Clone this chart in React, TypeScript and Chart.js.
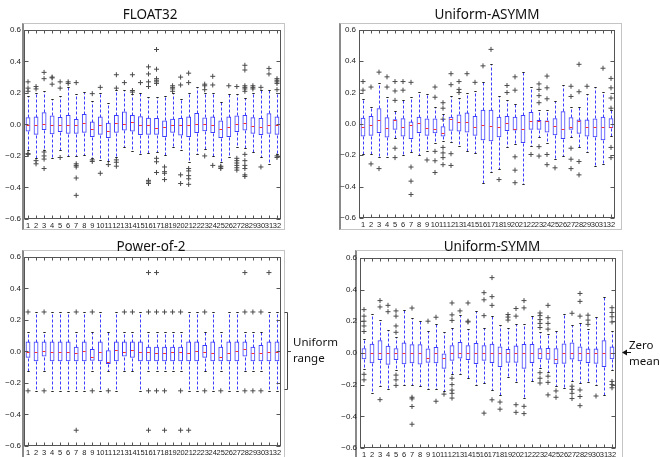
import React, { useEffect, useRef } from "react";
import { Chart, registerables } from "chart.js";
Chart.register(...registerables);

// ---------- data ----------
const CATEGORIES = ["1","2","3","4","5","6","7","8","9","10","11","12","13","14","15","16","17","18","19","20","21","22","23","24","25","26","27","28","29","30","31","32"];
const Y_MIN = -0.6;
const Y_MAX = 0.6;
const Y_STEP = 0.2;

// each box: [lower whisker, q1, median, q3, upper whisker]
const FLOAT32_BOXES = [
  [-0.16, -0.045, -0.006, 0.045, 0.18], [-0.21, -0.065, -0.006, 0.05, 0.2], [-0.16, -0.035, 0.005, 0.077, 0.21], [-0.21, -0.063, -0.004, 0.057, 0.16],
  [-0.16, -0.048, -0.002, 0.047, 0.18], [-0.2, -0.06, -0.005, 0.06, 0.24], [-0.2, -0.06, -0.006, 0.035, 0.195], [-0.195, -0.053, 0.006, 0.066, 0.205],
  [-0.215, -0.08, -0.032, 0.018, 0.15], [-0.225, -0.065, -0.004, 0.05, 0.2], [-0.23, -0.086, -0.042, 0.01, 0.135], [-0.205, -0.053, 0.006, 0.06, 0.22],
  [-0.143, -0.038, 0, 0.082, 0.22], [-0.17, -0.045, 0.014, 0.06, 0.19], [-0.185, -0.068, -0.006, 0.052, 0.2], [-0.18, -0.065, -0.006, 0.042, 0.175],
  [-0.175, -0.065, -0.02, 0.04, 0.175], [-0.195, -0.08, -0.015, 0.025, 0.18], [-0.143, -0.053, -0.006, 0.036, 0.2], [-0.165, -0.07, -0.004, 0.04, 0.16],
  [-0.24, -0.08, -0.006, 0.05, 0.2], [-0.19, -0.055, 0.004, 0.073, 0.24], [-0.155, -0.044, 0, 0.044, 0.2], [-0.2, -0.055, -0.006, 0.05, 0.2],
  [-0.24, -0.086, -0.027, 0.025, 0.145], [-0.205, -0.08, -0.017, 0.05, 0.19], [-0.145, -0.048, 0, 0.057, 0.195], [-0.15, -0.038, 0.012, 0.06, 0.17],
  [-0.178, -0.06, -0.01, 0.046, 0.2], [-0.205, -0.068, -0.015, 0.04, 0.22], [-0.25, -0.06, -0.004, 0.07, 0.22], [-0.19, -0.065, -0.004, 0.05, 0.2],
];
const FLOAT32_OUTLIERS = [
  [0.27, 0.23, 0.21, -0.185, -0.19], [0.24, 0.225, -0.23, -0.25], [0.33, 0.29, -0.175, -0.2, -0.22, -0.28], [0.3, 0.295, 0.255],
  [0.27, 0.23, -0.21], [0.27, 0.26], [0.265, -0.25, -0.26, -0.27, -0.34, -0.45], [],
  [0.195, -0.225, -0.235], [0.235, -0.31], [-0.255], [0.315, 0.23, -0.225, -0.24, -0.265],
  [0.265], [0.315, 0.215, 0.205], [0.265], [0.365, 0.32, 0.27, 0.24, -0.355, -0.365, -0.375],
  [0.475, 0.35, 0.29, 0.28, 0.27, 0.26, -0.215, -0.237, -0.305], [-0.27, -0.3, -0.31, -0.35], [0.245, 0.235, 0.225, 0.21], [0.3, 0.25, -0.32, -0.375],
  [0.325, 0.265, -0.28, -0.295, -0.325, -0.345, -0.38], [], [0.255, 0.245, 0.22, -0.2], [0.305, 0.25, -0.26],
  [-0.265, -0.27, -0.28], [0.245], [0.24, -0.215, -0.23, -0.245, -0.26, -0.275, -0.29], [0.375, 0.345, 0.245, 0.235, 0.225, 0.21, -0.19, -0.23, -0.26, -0.28, -0.32, -0.33],
  [0.245, 0.235, 0.225], [0.235, -0.27], [0.355, 0.32], [0.29, 0.28, 0.27, 0.26, 0.22, -0.2, -0.21],
];

const ASYMM_BOXES = [
  [-0.195, -0.08, -0.017, 0.04, 0.16], [-0.195, -0.075, -0.01, 0.05, 0.11], [-0.21, -0.058, 0.025, 0.1, 0.26], [-0.21, -0.086, -0.023, 0.042, 0.17],
  [-0.09, -0.038, 0.025, 0.03, 0.085], [-0.2, -0.08, -0.017, 0.036, 0.15], [-0.18, -0.097, -0.006, 0.015, 0.17], [-0.2, -0.058, 0.004, 0.045, 0.205],
  [-0.17, -0.075, -0.023, 0.035, 0.19], [-0.12, -0.06, -0.03, 0.035, 0.11], [-0.11, -0.08, -0.06, -0.015, 0.06], [-0.115, -0.044, 0.03, 0.046, 0.175],
  [-0.143, -0.048, 0.012, 0.06, 0.165], [-0.175, -0.055, 0.014, 0.072, 0.2], [-0.185, -0.075, -0.017, 0.05, 0.21], [-0.38, -0.105, -0.006, 0.09, 0.265],
  [-0.305, -0.11, -0.013, 0.09, 0.38], [-0.285, -0.085, -0.022, 0.045, 0.18], [-0.145, -0.045, 0.004, 0.05, 0.15], [-0.125, -0.042, -0.034, 0.046, 0.13],
  [-0.385, -0.122, -0.03, 0.057, 0.33], [-0.14, -0.038, 0.019, 0.076, 0.235], [-0.085, -0.038, 0.02, 0.025, 0.09], [-0.12, -0.055, 0.018, 0.022, 0.09],
  [-0.225, -0.073, -0.013, 0.036, 0.143], [-0.205, -0.097, -0.033, 0.08, 0.25], [-0.085, -0.038, -0.017, 0.042, 0.11], [-0.15, -0.063, 0.02, 0.028, 0.11],
  [-0.18, -0.08, -0.017, 0.028, 0.19], [-0.27, -0.085, -0.018, 0.035, 0.235], [-0.255, -0.105, -0.022, 0.046, 0.205], [-0.08, -0.028, -0.02, 0.036, 0.09],
];
const ASYMM_OUTLIERS = [
  [0.27, 0.215], [0.235, -0.255], [0.33, -0.285], [0.3, 0.235],
  [0.27, 0.21, 0.15, -0.155, -0.215], [0.27, 0.215], [0.265, -0.275, -0.365, -0.45], [],
  [-0.23], [0.235, 0.17, -0.175, -0.235, -0.31], [0.135, 0.1, 0.03, -0.15, -0.185, -0.215, -0.26], [0.32, 0.25, -0.19, -0.265],
  [0.27, 0.22, 0.2], [0.32], [0.265], [0.37],
  [0.475], [-0.355], [0.245, 0.2], [0.3, 0.215, -0.21, -0.295, -0.375],
  [], [-0.195], [0.255, 0.22, 0.18, 0.135, -0.145, -0.205], [0.305, 0.23, 0.16, -0.195, -0.26],
  [-0.28], [], [0.24, 0.175, -0.155, -0.225, -0.285], [0.38, 0.205, -0.24, -0.325],
  [0.24], [], [0.355], [0.29, 0.23, 0.165, 0.1, -0.15, -0.215],
];

const POW2_BOXES = [
  [-0.125, -0.04, -0.006, 0.0625, 0.125], [-0.25, -0.0625, -0.006, 0.0625, 0.25], [-0.125, -0.033, 0.004, 0.0625, 0.125], [-0.25, -0.0625, -0.006, 0.0625, 0.25],
  [-0.25, -0.0625, -0.004, 0.0625, 0.25], [-0.25, -0.0625, -0.006, 0.0625, 0.25], [-0.25, -0.0625, -0.008, 0.03, 0.125], [-0.25, -0.0625, 0.005, 0.0625, 0.25],
  [-0.125, -0.06, -0.033, 0.015, 0.125], [-0.25, -0.0625, -0.006, 0.0625, 0.25], [-0.125, -0.08, -0.065, 0.008, 0.125], [-0.25, -0.0625, 0.008, 0.0625, 0.25],
  [-0.125, -0.033, -0.002, 0.0625, 0.125], [-0.125, -0.04, 0.01, 0.0625, 0.125], [-0.25, -0.0625, -0.006, 0.0625, 0.25], [-0.125, -0.0625, -0.006, 0.03, 0.125],
  [-0.125, -0.0625, -0.013, 0.03, 0.125], [-0.125, -0.0625, -0.013, 0.03, 0.125], [-0.125, -0.0625, -0.006, 0.03, 0.125], [-0.125, -0.0625, -0.004, 0.03, 0.125],
  [-0.25, -0.0625, -0.008, 0.0625, 0.25], [-0.25, -0.0625, 0.003, 0.0625, 0.25], [-0.125, -0.04, -0.002, 0.04, 0.125], [-0.25, -0.0625, -0.008, 0.0625, 0.25],
  [-0.125, -0.0625, -0.033, 0.03, 0.125], [-0.25, -0.0625, -0.013, 0.0625, 0.25], [-0.25, -0.0625, 0.003, 0.0625, 0.25], [-0.125, -0.033, 0.015, 0.0625, 0.125],
  [-0.125, -0.0625, -0.013, 0.03, 0.125], [-0.125, -0.0625, -0.013, 0.04, 0.125], [-0.25, -0.0625, -0.006, 0.0625, 0.25], [-0.25, -0.0625, -0.006, 0.0625, 0.25],
];
const POW2_OUTLIERS = [
  [0.25, -0.25], [], [0.25, -0.25], [],
  [], [], [0.25, -0.5], [],
  [0.25, -0.25], [], [-0.25], [],
  [0.25], [0.25], [], [0.25, 0.5, -0.25, -0.5],
  [0.25, 0.5, -0.25], [0.25, -0.25, -0.5], [0.25], [0.25, -0.25, -0.5],
  [-0.5], [], [0.25, -0.25], [],
  [-0.25], [], [], [0.25, 0.5, -0.25],
  [0.25, -0.25], [0.25, -0.25], [0.5], [],
];

const SYMM_BOXES = [
  [-0.1, -0.04, 0, 0.03, 0.09], [-0.253, -0.066, 0, 0.058, 0.245], [-0.21, -0.045, 0, 0.08, 0.205], [-0.225, -0.075, 0, 0.045, 0.145],
  [-0.11, -0.045, 0, 0.03, 0.1], [-0.205, -0.072, 0, 0.065, 0.27], [-0.205, -0.066, 0, 0.055, 0.22], [-0.207, -0.073, 0, 0.055, 0.2],
  [-0.23, -0.062, -0.03, 0.028, 0.14], [-0.23, -0.066, 0, 0.038, 0.18], [-0.24, -0.1, -0.035, -0.003, 0.13], [-0.13, -0.05, 0, 0.048, 0.155],
  [-0.135, -0.035, 0, 0.068, 0.24], [-0.16, -0.045, 0, 0.048, 0.15], [-0.2, -0.07, 0, 0.062, 0.265], [-0.19, -0.05, 0, 0.048, 0.16],
  [-0.235, -0.064, 0, 0.057, 0.235], [-0.265, -0.089, 0, 0.041, 0.174], [-0.155, -0.062, 0, 0.025, 0.155], [-0.186, -0.062, 0, 0.046, 0.18],
  [-0.286, -0.1, 0, 0.056, 0.184], [-0.18, -0.064, 0, 0.056, 0.232], [-0.095, -0.04, 0, 0.03, 0.13], [-0.12, -0.043, 0, 0.031, 0.118],
  [-0.207, -0.072, -0.037, 0.03, 0.139], [-0.22, -0.068, 0, 0.06, 0.246], [-0.178, -0.041, 0, 0.066, 0.174], [-0.188, -0.052, 0, 0.041, 0.186],
  [-0.182, -0.064, 0, 0.027, 0.15], [-0.2, -0.068, 0, 0.027, 0.225], [-0.265, -0.089, 0, 0.08, 0.35], [-0.11, -0.04, 0, 0.04, 0.14],
];
const SYMM_OUTLIERS = [
  [0.273, 0.232, 0.2, 0.17, 0.135, -0.135, -0.17], [], [0.33, 0.29, -0.295], [0.3, 0.26],
  [0.265, 0.232, 0.17, 0.13, -0.14, -0.17, -0.205], [], [0.283, -0.28, -0.29, -0.338, -0.45], [],
  [0.2], [0.225, -0.305], [-0.26], [0.315, 0.24, 0.205, -0.16, -0.2, -0.235, -0.255, -0.285],
  [0.265], [0.315, 0.2, 0.195], [], [0.38, 0.335, 0.235, -0.38],
  [0.475, 0.355, 0.3, -0.296], [-0.31, -0.355], [0.242, 0.226, 0.207], [0.28, 0.232, -0.327, -0.375],
  [0.33, 0.284, -0.337, -0.383], [], [0.252, 0.235, 0.21, 0.186, 0.16, -0.125, -0.16, -0.19], [0.3, 0.222, 0.186, 0.15, -0.147, -0.186, -0.265],
  [-0.24, -0.28], [], [0.25, -0.21, -0.23, -0.255, -0.288], [0.375, 0.325, 0.232, -0.234, -0.275, -0.333],
  [0.238, 0.207, 0.18], [-0.272], [], [0.285, 0.255, 0.228, 0.195, -0.18, -0.2, -0.22],
];

// ---------- styles ----------
const BLUE = "#3d3dff";
const RED = "#ff2b2b";
const CAP = "#222222";
const FLIER = "#4a4a4a";
const SPINE = "#555555";
const X_TICK_FONT = { family: "'Liberation Sans', Arial, sans-serif", size: 7.5 };
const Y_TICK_FONT = { family: "'Liberation Sans', Arial, sans-serif", size: 8 };
const Y_AXIS_W = 22;
const X_AXIS_H = 14;
const PAD_TOP = 5;
const PAD_RIGHT = 3;

function fmt(v: number) {
  const r = Math.round(v * 10) / 10;
  if (Math.abs(r) < 1e-9) return "0.0";
  return r < 0 ? "\u2212" + Math.abs(r).toFixed(1) : r.toFixed(1);
}

type PanelProps = { boxes: number[][]; outliers: number[][]; left: number; top: number; width: number; height: number };

function BoxPanel({ boxes, outliers, left, top, width, height }: PanelProps) {
  const ref = useRef<HTMLCanvasElement>(null);
  const cw = Y_AXIS_W + width + PAD_RIGHT;
  const ch = PAD_TOP + height + X_AXIS_H;
  useEffect(() => {
    const canvas = ref.current!;
    const boxParts = {
      id: "boxParts",
      afterDatasetsDraw(chart: any) {
        const ctx = chart.ctx;
        const y = chart.scales.y;
        const meta = chart.getDatasetMeta(0);
        ctx.save();
        ctx.lineWidth = 1;
        boxes.forEach((b, i) => {
          const el = meta.data[i];
          const x = Math.round(el.x) + 0.5;
          const hw = el.width / 2;
          const py = (v: number) => Math.round(y.getPixelForValue(v)) + 0.5;
          // whiskers
          ctx.setLineDash([3, 2]);
          ctx.strokeStyle = BLUE;
          ctx.beginPath();
          ctx.moveTo(x, py(b[3]));
          ctx.lineTo(x, py(b[4]));
          ctx.moveTo(x, py(b[1]));
          ctx.lineTo(x, py(b[0]));
          ctx.stroke();
          ctx.setLineDash([]);
          // caps
          ctx.strokeStyle = CAP;
          ctx.beginPath();
          ctx.moveTo(x - hw / 2, py(b[4]));
          ctx.lineTo(x + hw / 2, py(b[4]));
          ctx.moveTo(x - hw / 2, py(b[0]));
          ctx.lineTo(x + hw / 2, py(b[0]));
          ctx.stroke();
          // median
          ctx.strokeStyle = RED;
          ctx.beginPath();
          ctx.moveTo(el.x - hw + 1, py(b[2]));
          ctx.lineTo(el.x + hw - 1, py(b[2]));
          ctx.stroke();
        });
        ctx.restore();
      },
      afterDraw(chart: any) {
        const ctx = chart.ctx;
        const a = chart.chartArea;
        const xs = chart.scales.x;
        const ys = chart.scales.y;
        ctx.save();
        ctx.strokeStyle = SPINE;
        ctx.lineWidth = 1;
        const l = Math.round(a.left) + 0.5, r = Math.round(a.right) - 0.5;
        const t = Math.round(a.top) + 0.5, bt = Math.round(a.bottom) - 0.5;
        ctx.strokeRect(l, t, r - l, bt - t);
        ctx.beginPath();
        xs.ticks.forEach((_: any, i: number) => {
          const x = Math.round(xs.getPixelForTick(i)) + 0.5;
          ctx.moveTo(x, bt); ctx.lineTo(x, bt - 3);
          ctx.moveTo(x, t); ctx.lineTo(x, t + 3);
        });
        ys.ticks.forEach((_: any, i: number) => {
          const yy = Math.round(ys.getPixelForTick(i)) + 0.5;
          ctx.moveTo(l, yy); ctx.lineTo(l + 4, yy);
          ctx.moveTo(r, yy); ctx.lineTo(r - 4, yy);
        });
        ctx.stroke();
        ctx.restore();
      },
    };
    const flierPoints: { x: string; y: number }[] = [];
    outliers.forEach((list, i) => list.forEach((v) => flierPoints.push({ x: CATEGORIES[i], y: v })));
    const chart = new Chart(canvas, {
      type: "bar",
      data: {
        labels: CATEGORIES,
        datasets: [
          {
            type: "bar",
            data: boxes.map((b) => [b[1], b[3]]),
            backgroundColor: "rgba(255,255,255,0)",
            borderColor: BLUE,
            borderWidth: 1,
            borderSkipped: false,
            barPercentage: 0.6,
            categoryPercentage: 1,
          } as any,
          {
            type: "scatter",
            data: flierPoints,
            pointStyle: "cross",
            pointRadius: 2.5,
            borderColor: FLIER,
            borderWidth: 1,
            backgroundColor: FLIER,
          } as any,
        ],
      },
      options: {
        animation: false,
        responsive: false,
        events: [],
        layout: { padding: { top: PAD_TOP, right: PAD_RIGHT, left: 0, bottom: 0 } },
        plugins: { legend: { display: false }, tooltip: { enabled: false }, title: { display: false } },
        scales: {
          x: {
            type: "category",
            offset: true,
            grid: { display: false, drawTicks: false },
            border: { display: false },
            ticks: { font: X_TICK_FONT, color: "#222", maxRotation: 0, minRotation: 0, autoSkip: false, padding: 2 },
            afterFit: (s: any) => { s.height = X_AXIS_H; },
          },
          y: {
            type: "linear",
            min: Y_MIN,
            max: Y_MAX,
            grid: { display: false, drawTicks: false },
            border: { display: false },
            ticks: { stepSize: Y_STEP, font: Y_TICK_FONT, color: "#222", padding: 3, callback: (v: any) => fmt(Number(v)) },
            afterFit: (s: any) => { s.width = Y_AXIS_W; },
          },
        },
      } as any,
      plugins: [boxParts],
    });
    return () => chart.destroy();
  }, []);
  return (
    <canvas
      ref={ref}
      width={cw}
      height={ch}
      style={{ position: "absolute", left: left - Y_AXIS_W, top: top - PAD_TOP, width: cw, height: ch }}
    />
  );
}

const TITLE_FONT = "'Noto Sans', 'Open Sans', sans-serif";

function Title({ text, cx, top }: { text: string; cx: number; top: number }) {
  return (
    <div style={{ position: "absolute", left: cx - 100, width: 200, top, textAlign: "center", font: `13.5px/13px ${TITLE_FONT}`, color: "#111", whiteSpace: "nowrap" }}>
      {text}
    </div>
  );
}

function Frame({ l, t, r, b }: { l: number; t: number; r: number; b: number }) {
  return (
    <div style={{ position: "absolute", left: l, top: t, width: r - l, height: b - t, borderTop: "1px solid #c4c4c4", borderRight: "1px solid #c4c4c4", borderBottom: "1px solid #c4c4c4", borderLeft: "2px solid #8a8a8a", boxSizing: "border-box" }} />
  );
}

function Note({ text, left, top }: { text: string; left: number; top: number }) {
  return (
    <div style={{ position: "absolute", left, top, font: `11.5px/12px ${TITLE_FONT}`, color: "#111", whiteSpace: "nowrap" }}>{text}</div>
  );
}

export default function App() {
  return (
    <div style={{ position: "absolute", left: 0, top: 0, width: 660, height: 457, background: "#fff", overflow: "hidden" }}>
      <Frame l={22} t={23} r={285} b={230} />
      <Frame l={339} t={23} r={622} b={230} />
      <Frame l={22} t={250} r={285} b={460} />
      <Frame l={355} t={250} r={623} b={460} />

      <BoxPanel boxes={FLOAT32_BOXES} outliers={FLOAT32_OUTLIERS} left={24} top={27} width={259} height={192} />
      <BoxPanel boxes={ASYMM_BOXES} outliers={ASYMM_OUTLIERS} left={359} top={27} width={258} height={191} />
      <BoxPanel boxes={POW2_BOXES} outliers={POW2_OUTLIERS} left={24} top={254} width={259} height={192} />
      <BoxPanel boxes={SYMM_BOXES} outliers={SYMM_OUTLIERS} left={360} top={255} width={258} height={193} />

      <Title text="FLOAT32" cx={150} top={8} />
      <Title text="Uniform-ASYMM" cx={487} top={8} />
      <Title text="Power-of-2" cx={151} top={240} />
      <Title text="Uniform-SYMM" cx={492} top={240} />

      {/* uniform range bracket */}
      <svg style={{ position: "absolute", left: 280, top: 305, overflow: "visible" }} width={20} height={90}>
        <path d="M284.5 312.5 H287.5 V389.5 H284.5 M287.5 351.5 H291" transform="translate(-280,-305)" stroke="#444" strokeWidth={1} fill="none" />
      </svg>
      <Note text="Uniform" left={293} top={336} />
      <Note text="range" left={293} top={352} />

      {/* zero mean arrow */}
      <svg style={{ position: "absolute", left: 615, top: 345, overflow: "visible" }} width={20} height={14}>
        <path d="M622 352.5 L627 349.5 L627 355.5 Z" transform="translate(-615,-345)" fill="#111" />
        <path d="M625 352.5 H631" transform="translate(-615,-345)" stroke="#111" strokeWidth={1} />
      </svg>
      <Note text="Zero" left={629} top={339} />
      <Note text="mean" left={629} top={355} />
    </div>
  );
}
